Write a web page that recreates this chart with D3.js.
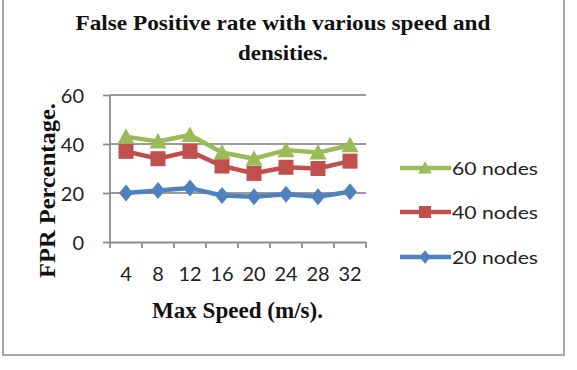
<!DOCTYPE html>
<html><head><meta charset="utf-8">
<script src="https://cdn.jsdelivr.net/npm/d3@7"></script>
<style>body{margin:0;background:#fff}svg{display:block}</style>
</head><body>
<script>
const speeds = ["4","8","12","16","20","24","28","32"];
const nodes20 = [20, 21, 22, 19, 18.5, 19.5, 18.5, 20.5];
const nodes40 = [37, 34, 37, 31, 28, 30.5, 30, 33];
const nodes60 = [43, 41, 43.7, 36.5, 34, 37.5, 36.5, 39.5];
const yTicks = [0, 20, 40, 60];
const seriesNames = ["60 nodes", "40 nodes", "20 nodes"];

const W = 577, H = 370;
const svg = d3.select("body").append("svg").attr("width", W).attr("height", H);
svg.append("rect").attr("x", 3).attr("y", -5).attr("width", 561).attr("height", 360)
  .attr("fill", "#fff").attr("stroke", "#a6a6a6").attr("stroke-width", 2);

const m = {left: 110, right: 366, top: 95, bottom: 242};
const x = d3.scaleBand().domain(speeds).range([m.left, m.right]);
const y = d3.scaleLinear().domain([0, 60]).range([m.bottom, m.top]);

svg.append("g").selectAll("line").data(yTicks.filter(d => d > 0)).join("line")
  .attr("x1", m.left).attr("x2", m.right).attr("y1", d => y(d)).attr("y2", d => y(d))
  .attr("stroke", "#9a9a9a").attr("stroke-width", 1.8);

const font = "Lato, 'Open Sans', sans-serif";
const yAxis = svg.append("g").attr("transform", `translate(${m.left},0)`)
  .call(d3.axisLeft(y).tickValues(yTicks).tickSize(7).tickPadding(16));
const xAxis = svg.append("g").attr("transform", `translate(0,${m.bottom})`)
  .call(d3.axisBottom(x).tickSize(0).tickPadding(25));
svg.append("g").selectAll("line").data(d3.range(speeds.length + 1)).join("line")
  .attr("x1", i => m.left + i * x.step()).attr("x2", i => m.left + i * x.step())
  .attr("y1", m.bottom).attr("y2", m.bottom + 6).attr("stroke", "#8c8c8c").attr("stroke-width", 1.8);
[yAxis, xAxis].forEach(a => {
  a.selectAll("path.domain").attr("stroke", "#8c8c8c").attr("stroke-width", 1.8);
  a.selectAll(".tick line").attr("stroke", "#8c8c8c").attr("stroke-width", 1.8);
  a.selectAll("text").attr("font-family", font).attr("font-size", 20).attr("fill", "#222");
});
yAxis.select("path.domain").attr("d", `M-0,${m.top}V${m.bottom}`);
yAxis.selectAll("text").attr("dy", "0.36em").attr("x", -26);

const colors = ["#9bbb59", "#c0504d", "#4f81bd"];
const data = [nodes60, nodes40, nodes20];
const tri = {draw(ctx, s) { ctx.moveTo(0, -8.5); ctx.lineTo(8.5, 7); ctx.lineTo(-8.5, 7); ctx.closePath(); }};
const sq = {draw(ctx, s) { ctx.rect(-7.5, -7.5, 15, 15); }};
const dia = {draw(ctx, s) { ctx.moveTo(0, -8.5); ctx.lineTo(7, 0); ctx.lineTo(0, 8.5); ctx.lineTo(-7, 0); ctx.closePath(); }};
const shapes = [tri, sq, dia];
const line = d3.line().x((d, i) => x(speeds[i]) + x.bandwidth() / 2).y(d => y(d));
[2, 1, 0].forEach(k => {
  svg.append("path").datum(data[k]).attr("d", line).attr("fill", "none")
    .attr("stroke", colors[k]).attr("stroke-width", 4.5).attr("stroke-linejoin", "round");
  svg.append("g").selectAll("path").data(data[k]).join("path")
    .attr("transform", (d, i) => `translate(${x(speeds[i]) + x.bandwidth() / 2},${y(d)})`)
    .attr("d", d3.symbol().type(shapes[k])).attr("fill", colors[k]);
});

const legY = [168, 212, 257];
seriesNames.forEach((name, k) => {
  const g = svg.append("g").attr("transform", `translate(400,${legY[k]})`);
  g.append("line").attr("x1", 0).attr("x2", 51).attr("stroke", colors[k]).attr("stroke-width", 4.5);
  g.append("path").attr("transform", "translate(25,0) scale(0.8)")
    .attr("d", d3.symbol().type(shapes[k])).attr("fill", colors[k]);
  g.append("text").attr("x", 52).attr("y", 6.5).text(name)
    .attr("textLength", 86).attr("lengthAdjust", "spacingAndGlyphs")
    .attr("font-family", font).attr("font-size", 18).attr("fill", "#222");
});

const serif = "'Liberation Serif', 'Times New Roman', serif";
function bold(t, x0, y0, len, size) {
  return svg.append("text").attr("x", x0).attr("y", y0).attr("text-anchor", "middle")
    .attr("font-family", serif).attr("font-weight", "bold").attr("font-size", size)
    .attr("textLength", len).attr("lengthAdjust", "spacingAndGlyphs").attr("fill", "#111").text(t);
}
bold("False Positive rate with various speed and", 283, 30, 415, 22);
bold("densities.", 283, 60, 90, 22);
bold("Max Speed (m/s).", 237.5, 318, 171, 23);
bold("FPR Percentage.", 0, 0, 175, 24).attr("x", null).attr("y", null)
  .attr("transform", "translate(55,190.5) rotate(-90)");
</script>
</body></html>
